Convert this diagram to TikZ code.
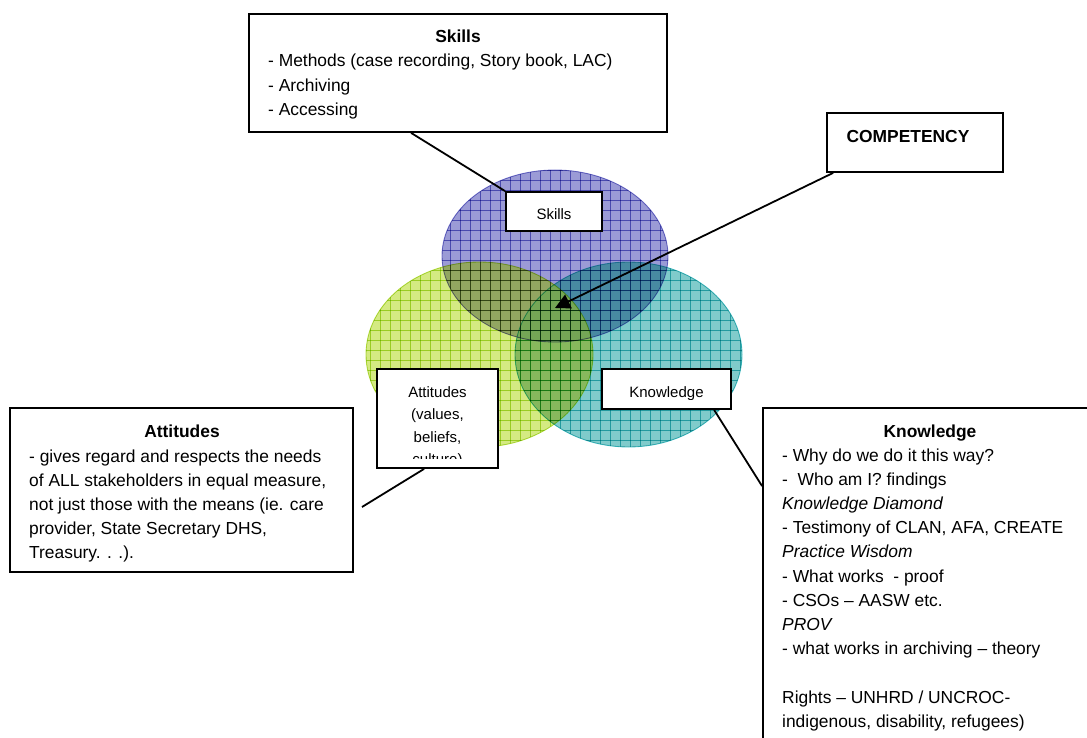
\documentclass[tikz,border=0pt]{standalone}
\usepackage{fontspec}
\setmainfont{Liberation Sans}
\usetikzlibrary{arrows.meta}
\definecolor{skf}{RGB}{73,73,182}
\definecolor{skg}{RGB}{123,123,208}
\definecolor{atf}{RGB}{177,217,28}
\definecolor{atg}{RGB}{186,223,70}
\definecolor{knf}{RGB}{24,162,162}
\definecolor{kng}{RGB}{70,194,200}
\begin{document}
\begin{tikzpicture}[x=1pt,y=-1pt,
  box/.style={draw=black, line width=1.8pt, fill=white, inner sep=0pt},
  txt/.style={font=\fontsize{17.4}{24}\selectfont, inner sep=0pt, anchor=base west},
  ttl/.style={font=\fontsize{17.4}{24}\selectfont\bfseries, inner sep=0pt, anchor=base},
  lbl/.style={font=\fontsize{15}{22}\selectfont, inner sep=0pt, anchor=base},
  conn/.style={draw=black, line width=1.8pt},
  gridline/.style={line width=0.85pt},
  venn/.style={fill opacity=0.55}]
\clip (0,0) rectangle (1087,738);
\fill[white] (0,0) rectangle (1087,738);

% ---- circle fills ----
\fill[skf, venn] (555,256) ellipse [x radius=113, y radius=86];
\fill[knf, venn] (628.5,354.5) ellipse [x radius=113.5, y radius=92.5];
\fill[atf, venn] (479.5,354.5) ellipse [x radius=113.5, y radius=92.5];
% darken the overlaps a little (each region covered once)
\begin{scope}
  \clip (555,256) ellipse [x radius=113, y radius=86];
  \fill[black, fill opacity=0.12] (479.5,354.5) ellipse [x radius=113.5, y radius=92.5];
\end{scope}
\begin{scope}
  \clip (628.5,354.5) ellipse [x radius=113.5, y radius=92.5];
  \fill[black, fill opacity=0.12, even odd rule] (555,256) ellipse [x radius=113, y radius=86]
     (479.5,354.5) ellipse [x radius=113.5, y radius=92.5];
\end{scope}

% ---- grids (multiplied onto the fills) ----
\begin{scope}[blend mode=multiply]
  \begin{scope}
    \clip (555,256) ellipse [x radius=113, y radius=86];
    \foreach \gx in {440,450,...,670} \draw[skg, gridline] (\gx,160) -- (\gx,350);
    \foreach \gy in {170,180,...,340} \draw[skg, gridline] (430,\gy) -- (680,\gy);
  \end{scope}
  \draw[skg, gridline] (555,256) ellipse [x radius=113, y radius=86];
  \begin{scope}
    \clip (628.5,354.5) ellipse [x radius=113.5, y radius=92.5];
    \foreach \gx in {520,530,...,740} \draw[kng, gridline] (\gx,250) -- (\gx,450);
    \foreach \gy in {260,270,...,450} \draw[kng, gridline] (510,\gy) -- (750,\gy);
  \end{scope}
  \draw[kng, gridline] (628.5,354.5) ellipse [x radius=113.5, y radius=92.5];
  \begin{scope}
    \clip (479.5,354.5) ellipse [x radius=113.5, y radius=92.5];
    \foreach \gx in {370,380,...,590} \draw[atg, gridline] (\gx,250) -- (\gx,450);
    \foreach \gy in {260,270,...,450} \draw[atg, gridline] (360,\gy) -- (600,\gy);
  \end{scope}
  \draw[atg, gridline] (479.5,354.5) ellipse [x radius=113.5, y radius=92.5];
\end{scope}

% ---- Skills box ----
\node[box, minimum width=418pt, minimum height=118pt] (sbox) at (458,73) {};
\node[ttl] (st) at (458,43) {Skills};
\node[txt] (s1) at (268,67) {- Methods (case recording, Story book, LAC)};
\node[txt] (s2) at (268,91.5) {- Archiving};
\node[txt] (s3) at (268,116) {- Accessing};

% ---- COMPETENCY box ----
\node[box, minimum width=176pt, minimum height=59pt] (cbox) at (915,142.5) {};
\node[ttl] (ct) at (908,143) {COMPETENCY};
\coordinate (ctip) at (555,308);
\draw[conn, -{Triangle[length=15pt,width=15pt]}] ([xshift=7pt]cbox.south west) -- (ctip);

% ---- Attitudes box ----
\node[box, minimum width=343pt, minimum height=164pt] (abox) at (181.5,490) {};
\begin{scope}
  \clip (12,410) rectangle (351,562);
  \node[ttl] (at) at (182,437) {Attitudes};
  \node[txt] (a1) at (29,462) {- gives regard and respects the needs};
  \node[txt] (a2) at (29,486) {of ALL stakeholders in equal measure,};
  \node[txt] (a3) at (29,510) {not just those with the means (ie. care};
  \node[txt] (a4) at (29,534) {provider, State Secretary DHS,};
  \node[txt] (a5) at (29,558) {Treasury. . .).};
\end{scope}

% ---- Knowledge box ----
\node[box, minimum width=337pt, minimum height=352pt] (kbox) at (931.5,584) {};
\node[ttl] (kt) at (930,437) {Knowledge};
\node[txt] (k1) at (782,461) {- Why do we do it this way?};
\node[txt] (k2) at (782,485.2) {- \ Who am I? findings};
\node[txt] (k3) at (782,509.4) {\itshape Knowledge Diamond};
\node[txt] (k4) at (782,533.6) {- Testimony of CLAN, AFA, CREATE};
\node[txt] (k5) at (782,557.8) {\itshape Practice Wisdom};
\node[txt] (k6) at (782,582) {- What works \ - proof};
\node[txt] (k7) at (782,606.2) {- CSOs – AASW etc.};
\node[txt] (k8) at (782,630.4) {\itshape PROV};
\node[txt] (k9) at (782,654.6) {- what works in archiving – theory};
\node[txt] (k11) at (782,703) {Rights – UNHRD / UNCROC-};
\node[txt] (k12) at (782,727.2) {indigenous, disability, refugees)};

% ---- small label boxes ----
\node[box, minimum width=96pt, minimum height=39pt] (slab) at (554,211.5) {};
\node[lbl] (slt) at (554,220) {Skills};

\node[box, minimum width=129pt, minimum height=40pt] (klab) at (666.5,389) {};
\begin{scope}
  \clip (603,370) rectangle (730,399);
  \node[lbl] (klt) at (666.5,397) {Knowledge};
\end{scope}

\node[box, minimum width=121pt, minimum height=99pt] (alab) at (437.5,418.5) {};
\begin{scope}
  \clip (378,370) rectangle (497,458);
  \node[lbl] (al1) at (437.5,397) {Attitudes};
  \node[lbl] (al2) at (437.5,419.5) {(values,};
  \node[lbl] (al3) at (437.5,442) {beliefs,};
  \node[lbl] (al4) at (437.5,464.5) {culture)};
\end{scope}

% ---- connectors ----
\draw[conn] ([xshift=163pt]sbox.south west) -- (slab.north west);
\coordinate (aend) at (362,507);
\draw[conn] (aend) -- ([xshift=48pt]alab.south west);
\draw[conn] ([xshift=113pt]klab.south west) -- ([yshift=-79pt]kbox.north west);
\end{tikzpicture}
\end{document}
